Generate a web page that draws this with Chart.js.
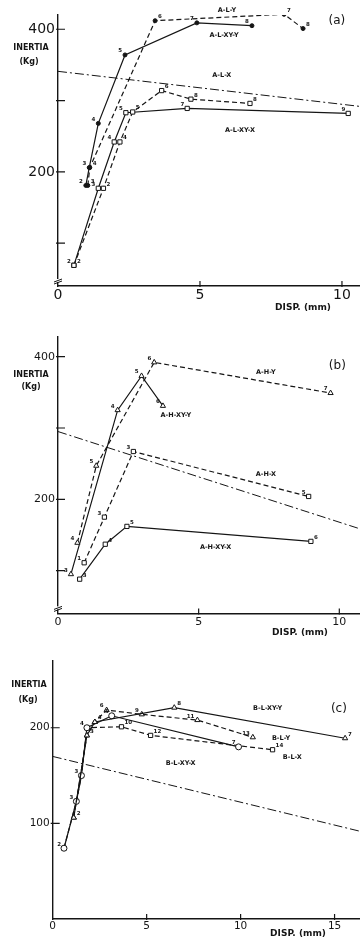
<!DOCTYPE html>
<html>
<head>
<meta charset="utf-8">
<title>Inertia vs displacement</title>
<script src="https://cdn.jsdelivr.net/npm/chart.js@4.4.0/dist/chart.umd.min.js"></script>
<style>
  html, body { margin: 0; padding: 0; background: #fff; }
  #wrap { position: relative; width: 364px; height: 939px; }
  canvas { position: absolute; left: 0; }
</style>
</head>
<body>
<div id="wrap">
  <canvas id="chartA" width="364" height="320" style="top:0px"></canvas>
  <canvas id="chartB" width="364" height="320" style="top:320px"></canvas>
  <canvas id="chartC" width="364" height="299" style="top:640px"></canvas>
</div>
<script>
const ink = '#151515';
const font = '"DejaVu Sans", sans-serif';

// ---- panel (a) ----
const aTicksX = [0, 5, 10];
const aTicksY = [100, 200, 300, 400];
const aLabelY = [200, 400];

const aLY_x = [1.05, 1.12, 3.42, 7.96, 8.63];
const aLY_y = [181, 206, 412, 421, 401];
const aLY_n = ['3', '4', '6', '7', '8'];

const aLXYY_x = [0.98, 1.1, 1.42, 2.36, 4.89, 6.83];
const aLXYY_y = [181, 206, 268, 364, 409, 405];
const aLXYY_n = ['2', '3', '4', '5', '7', '8'];

const aLX_x = [0.56, 1.6, 2.18, 2.63, 3.65, 4.68, 6.76];
const aLX_y = [69, 177, 242, 284, 314, 302, 296];
const aLX_n = ['2', '2', '4', '5', '6', '8', '8'];

const aLXYX_x = [0.56, 1.42, 1.98, 2.39, 4.55, 10.22];
const aLXYX_y = [69, 177, 242, 283, 289, 282];
const aLXYX_n = ['2', '3', '4', '5', '7', '9'];

const aRef_x = [0, 10.6];
const aRef_y = [341, 292];

// ---- panel (b) ----
const bTicksX = [0, 5, 10];
const bTicksY = [100, 200, 300, 400];
const bLabelY = [200, 400];

const bHY_x = [0.69, 1.36, 3.42, 9.69];
const bHY_y = [139, 247, 392, 349];
const bHY_n = ['4', '5', '6', '7'];

const bHXYY_x = [0.46, 2.12, 2.97, 3.73];
const bHXYY_y = [95, 325, 373, 331];
const bHXYY_n = ['3', '4', '5', '6'];

const bHX_x = [0.93, 1.65, 2.68, 8.91];
const bHX_y = [111, 175, 267, 204];
const bHX_n = ['1', '3', '3', '5'];

const bHXYX_x = [0.77, 1.68, 2.45, 8.99];
const bHXYX_y = [88, 137, 162, 141];
const bHXYX_n = ['3', '4', '5', '6'];

const bRef_x = [0, 10.7];
const bRef_y = [295, 159];

// ---- panel (c) ----
const cTicksX = [0, 5, 10, 15];
const cTicksY = [100, 200];
const cLabelY = [100, 200];

const cLXYY_x = [1.12, 1.82, 2.24, 6.47, 15.56];
const cLXYY_y = [106, 192, 206, 221, 189];
const cLXYY_n = ['2', '3', '4', '8', '7'];

const cLY_x = [1.12, 1.82, 2.24, 2.87, 4.74, 7.7, 10.65];
const cLY_y = [106, 192, 206, 218.5, 214, 208, 190];
const cLY_n = ['', '', '', '6', '9', '11', '13'];

const cLXYX_x = [0.6, 1.26, 1.53, 1.82, 3.14, 9.89];
const cLXYX_y = [74, 123, 150, 200, 212.5, 180];
const cLXYX_n = ['2', '3', '3', '4', '5', '7'];

const cLX_x = [0.6, 1.26, 1.53, 1.82, 3.66, 5.21, 11.7];
const cLX_y = [74, 123, 150, 200, 201, 192, 177];
const cLX_n = ['', '', '', '', '10', '12', '14'];

const cRef_x = [0, 16.3];
const cRef_y = [170, 92];

function pts(xs, ys) {
  return xs.map((x, i) => ({ x: x, y: ys[i] }));
}

// one plotted series; kind: 'solid' | 'dash' | 'ref'
function series(xs, ys, nums, kind, marker, filled, side) {
  return {
    data: pts(xs, ys),
    nums: nums,
    numSide: side || 'l',
    borderColor: ink,
    borderWidth: kind === 'ref' ? 1 : 1.2,
    borderDash: kind === 'dash' ? [5, 3] : kind === 'ref' ? [9, 3, 2, 3] : [],
    pointStyle: marker || 'circle',
    pointRadius: kind === 'ref' ? 0 : (marker === 'circle' && filled ? 2 : 3),
    pointBorderWidth: 1,
    pointBorderColor: ink,
    pointBackgroundColor: filled ? ink : '#fff',
    tension: 0,
    fill: false
  };
}

function makePanel(id, o) {
  const marks = {
    id: 'marks',
    afterDraw(chart) {
      const ctx = chart.ctx, a = chart.chartArea;
      const sx = chart.scales.x, sy = chart.scales.y;
      ctx.save();
      ctx.strokeStyle = ink;
      ctx.fillStyle = ink;
      ctx.lineWidth = 1.2;
      ctx.beginPath();
      o.yTicks.forEach(v => {
        const p = sy.getPixelForValue(v);
        ctx.moveTo(a.left - 2, p); ctx.lineTo(a.left + 7, p);
      });
      o.xTicks.forEach(v => {
        if (v === 0) return;
        const p = sx.getPixelForValue(v);
        ctx.moveTo(p, a.bottom + 1); ctx.lineTo(p, a.bottom - 5);
      });
      ctx.stroke();

      if (o.axisBreak) {
        const yb = a.bottom - 5;
        ctx.fillStyle = '#fff';
        ctx.fillRect(a.left - 3, yb - 2, 6, 3);
        ctx.fillStyle = ink;
        ctx.beginPath();
        ctx.moveTo(a.left - 4, yb + 1); ctx.lineTo(a.left + 4, yb - 2);
        ctx.moveTo(a.left - 4, yb + 3); ctx.lineTo(a.left + 4, yb);
        ctx.lineWidth = 1;
        ctx.stroke();
      }

      // step numbers beside the points
      ctx.font = 'bold 5.5px ' + font;
      ctx.textBaseline = 'middle';
      chart.data.datasets.forEach((ds, i) => {
        if (!ds.nums) return;
        chart.getDatasetMeta(i).data.forEach((pt, j) => {
          const left = ds.numSide === 'l';
          ctx.textAlign = left ? 'right' : 'left';
          ctx.fillText(ds.nums[j] || '', pt.x + (left ? -3 : 3), pt.y - 4);
        });
      });

      // curve names
      ctx.textAlign = 'center';
      o.notes.forEach(n => {
        ctx.font = (n.size ? n.size + 'px ' : 'bold 6.5px ') + font;
        ctx.fillText(n.t, sx.getPixelForValue(n.x), sy.getPixelForValue(n.y));
      });

      // axis titles
      o.titles.forEach(n => {
        ctx.font = 'bold ' + n.size + 'px ' + font;
        ctx.fillText(n.t, n.px, n.py);
      });
      ctx.restore();
    }
  };

  return new Chart(document.getElementById(id), {
    type: 'line',
    data: { datasets: o.datasets },
    options: {
      responsive: false,
      animation: false,
      devicePixelRatio: 1,
      layout: { padding: o.pad },
      plugins: { legend: { display: false }, tooltip: { enabled: false } },
      scales: {
        x: {
          type: 'linear',
          min: 0,
          max: o.xMax,
          afterBuildTicks: s => { s.ticks = o.xTicks.map(v => ({ value: v })); },
          afterFit: s => { s.height = o.xH; },
          grid: { display: true, drawOnChartArea: false, drawTicks: false },
          border: { display: true, color: ink, width: 1.4 },
          ticks: { color: ink, padding: o.xPad, maxRotation: 0, font: { family: font, size: o.tickSize } }
        },
        y: {
          type: 'linear',
          min: o.yMin,
          max: o.yMax,
          afterBuildTicks: s => { s.ticks = o.yTicks.map(v => ({ value: v })); },
          afterFit: s => { s.width = o.yW; },
          grid: { display: true, drawOnChartArea: false, drawTicks: false },
          border: { display: true, color: ink, width: 1.4 },
          ticks: {
            color: ink, padding: 3,
            font: { family: font, size: o.tickSize },
            callback: v => o.yLabels.includes(v) ? String(v) : ''
          }
        }
      }
    },
    plugins: [marks]
  });
}

makePanel('chartA', {
  pad: { top: 15, right: 5, left: 0, bottom: 0 },
  xMax: 10.6, yMin: 40, yMax: 420, yW: 58, xH: 34, xPad: 1, tickSize: 14,
  xTicks: aTicksX, yTicks: aTicksY, yLabels: aLabelY, axisBreak: true,
  datasets: [
    series(aRef_x, aRef_y, null, 'ref'),
    series(aLY_x, aLY_y, aLY_n, 'dash', 'circle', true, 'r'),
    series(aLXYY_x, aLXYY_y, aLXYY_n, 'solid', 'circle', true, 'l'),
    series(aLX_x, aLX_y, aLX_n, 'dash', 'rect', false, 'r'),
    series(aLXYX_x, aLXYX_y, aLXYX_n, 'solid', 'rect', false, 'l')
  ],
  notes: [
    { t: 'A-L-Y', x: 5.95, y: 427 },
    { t: 'A-L-XY-Y', x: 5.85, y: 392 },
    { t: 'A-L-X', x: 5.77, y: 336 },
    { t: 'A-L-XY-X', x: 6.41, y: 258 },
    { t: '(a)', x: 9.82, y: 412, size: 12 }
  ],
  titles: [
    { t: 'INERTIA', px: 31, py: 48, size: 8 },
    { t: '(Kg)', px: 29, py: 62, size: 8 },
    { t: 'DISP. (mm)', px: 303, py: 308, size: 9 }
  ]
});

makePanel('chartB', {
  pad: { top: 16.7, right: 2, left: 0, bottom: 0 },
  xMax: 10.7, yMin: 40, yMax: 428, yW: 58, xH: 26.6, xPad: 2, tickSize: 11,
  xTicks: bTicksX, yTicks: bTicksY, yLabels: bLabelY, axisBreak: true,
  datasets: [
    series(bRef_x, bRef_y, null, 'ref'),
    series(bHY_x, bHY_y, bHY_n, 'dash', 'triangle', false, 'l'),
    series(bHXYY_x, bHXYY_y, bHXYY_n, 'solid', 'triangle', false, 'l'),
    series(bHX_x, bHX_y, bHX_n, 'dash', 'rect', false, 'l'),
    series(bHXYX_x, bHXYX_y, bHXYX_n, 'solid', 'rect', false, 'r')
  ],
  notes: [
    { t: 'A-H-Y', x: 7.39, y: 378 },
    { t: 'A-H-XY-Y', x: 4.19, y: 318 },
    { t: 'A-H-X', x: 7.39, y: 235 },
    { t: 'A-H-XY-X', x: 5.6, y: 133 },
    { t: '(b)', x: 9.93, y: 387, size: 12 }
  ],
  titles: [
    { t: 'INERTIA', px: 31, py: 55, size: 8 },
    { t: '(Kg)', px: 31, py: 67, size: 8 },
    { t: 'DISP. (mm)', px: 300, py: 313, size: 9 }
  ]
});

makePanel('chartC', {
  pad: { top: 20.8, right: 1.6, left: 0, bottom: 0 },
  xMax: 16.3, yMin: 0, yMax: 270, yW: 52.7, xH: 20, xPad: 1, tickSize: 10.5,
  xTicks: cTicksX, yTicks: cTicksY, yLabels: cLabelY, axisBreak: false,
  datasets: [
    series(cRef_x, cRef_y, null, 'ref'),
    series(cLXYY_x, cLXYY_y, cLXYY_n, 'solid', 'triangle', false, 'r'),
    series(cLY_x, cLY_y, cLY_n, 'dash', 'triangle', false, 'l'),
    series(cLXYX_x, cLXYX_y, cLXYX_n, 'solid', 'circle', false, 'l'),
    series(cLX_x, cLX_y, cLX_n, 'dash', 'rect', false, 'r')
  ],
  notes: [
    { t: 'B-L-XY-Y', x: 11.44, y: 220 },
    { t: 'B-L-Y', x: 12.15, y: 189 },
    { t: 'B-L-X', x: 12.75, y: 169 },
    { t: 'B-L-XY-X', x: 6.81, y: 163 },
    { t: '(c)', x: 15.23, y: 220, size: 12 }
  ],
  titles: [
    { t: 'INERTIA', px: 29, py: 45, size: 8 },
    { t: '(Kg)', px: 28, py: 60, size: 8 },
    { t: 'DISP. (mm)', px: 298, py: 294, size: 9 }
  ]
});
</script>
</body>
</html>
